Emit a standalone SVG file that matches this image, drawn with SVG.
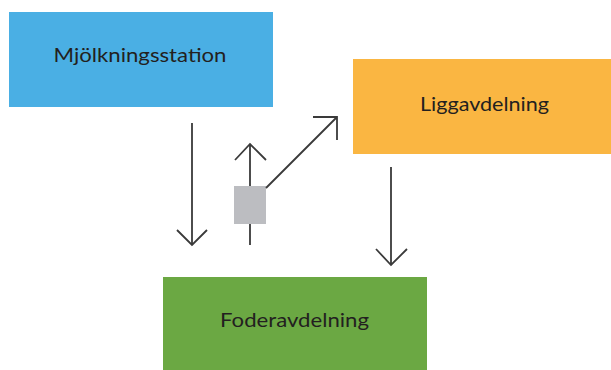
<svg xmlns="http://www.w3.org/2000/svg" width="611" height="370" viewBox="0 0 611 370">
<style>
.lbl{font-family:"Gill Sans","Lato","Liberation Sans",sans-serif;font-size:20px;fill:#231f20;text-anchor:middle}
.ln{stroke:#3a3a3a;stroke-width:1.8;fill:none;stroke-linecap:butt;stroke-linejoin:miter}
</style>
<rect width="611" height="370" fill="#ffffff"/>
<g id="mjolkningsstation">
<rect x="9" y="12" width="264" height="95" fill="#4aafe4"/>
<text class="lbl" x="140" y="62" textLength="173" lengthAdjust="spacingAndGlyphs">Mjölkningsstation</text>
</g>
<g id="liggavdelning">
<rect x="353" y="59" width="258" height="95" fill="#fab642"/>
<text class="lbl" x="484.5" y="111" textLength="129" lengthAdjust="spacingAndGlyphs">Liggavdelning</text>
</g>
<g id="foderavdelning">
<rect x="163" y="277" width="264" height="93" fill="#6ba843"/>
<text class="lbl" x="294.5" y="327" textLength="149" lengthAdjust="spacingAndGlyphs">Foderavdelning</text>
</g>
<g id="gate">
<rect x="234" y="186" width="32" height="38" fill="#bcbdc1"/>
</g>
<g id="connectors">
<path class="ln" d="M192 123V245M177 230L192 245L207 230"/>
<path class="ln" d="M250 245V224M250 186V144M235 160L250 144L266 160"/>
<path class="ln" d="M266 188L337 117M313 117H337V140"/>
<path class="ln" d="M391 167V265M376 249L391 265L407 249"/>
</g>
</svg>
